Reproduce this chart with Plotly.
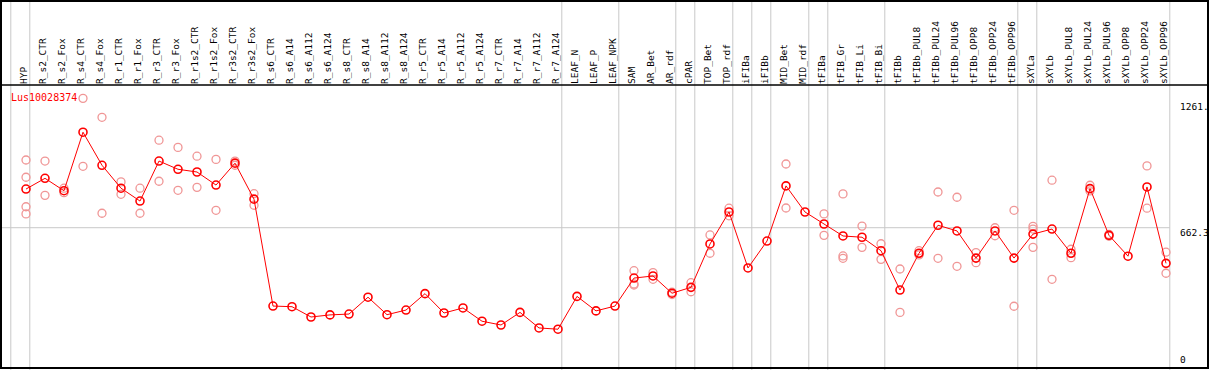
import plotly.graph_objects as go

categories = ["HYP", "R_s2_CTR", "R_s2_Fox", "R_s4_CTR", "R_s4_Fox", "R_r1_CTR", "R_r1_Fox",
              "R_r3_CTR", "R_r3_Fox", "R_r1s2_CTR", "R_r1s2_Fox", "R_r3s2_CTR", "R_r3s2_Fox",
              "R_s6_CTR", "R_s6_A14", "R_s6_A112", "R_s6_A124", "R_s8_CTR", "R_s8_A14",
              "R_s8_A112", "R_s8_A124", "R_r5_CTR", "R_r5_A14", "R_r5_A112", "R_r5_A124",
              "R_r7_CTR", "R_r7_A14", "R_r7_A112", "R_r7_A124", "LEAF_N", "LEAF_P", "LEAF_NPK",
              "SAM", "AR_Bet", "AR_rdf", "cPAR", "TOP_Bet", "TOP_rdf", "iFIBa", "iFIBb",
              "MID_Bet", "MID_rdf", "tFIBa", "tFIB_Gr", "tFIB_Li", "tFIB_Bi", "tFIBb",
              "tFIBb_PUL8", "tFIBb_PUL24", "tFIBb_PUL96", "tFIBb_OPP8", "tFIBb_OPP24",
              "tFIBb_OPP96", "sXYLa", "sXYLb", "sXYLb_PUL8", "sXYLb_PUL24", "sXYLb_PUL96",
              "sXYLb_OPP8", "sXYLb_OPP24", "sXYLb_OPP96"]

means = [846, 897, 838, 1116, 959, 850, 789, 979, 940, 927, 865, 969, 798,
         290, 287, 238, 248, 252, 332, 249, 271, 349, 257, 281, 218,
         200, 260, 186, 180, 336, 267, 290,
         423, 433, 351, 379, 585, 737, 471, 599,
         861, 737, 680, 623, 617, 553, 366,
         541, 674, 647, 518, 647, 518,
         632, 656, 541, 848, 626, 527, 856, 493]

replicates = [
    [984, 902, 762, 728], [979, 816], [850, 829], [1277, 954], [1187, 731], [880, 821], [850, 731],
    [1078, 883], [1044, 840], [1002, 854], [987, 745], [979, 959], [824, 769],
    [], [], [], [], [], [], [], [], [], [], [], [],
    [], [], [], [], [], [], [],
    [458, 395, 390], [449, 417], [356, 345], [401, 358], [628, 541], [755, 719], [], [],
    [965, 756], [], [728, 626], [823, 528, 517], [670, 569], [586, 512], [466, 260],
    [553, 533], [832, 517], [807, 479], [544, 496], [662, 624], [745, 289],
    [669, 656, 569], [888, 417], [560, 520], [864, 837], [631, 622], [], [956, 755], [546, 446],
]

group_ends = ["HYP", "R_r7_A124", "LEAF_NPK", "AR_rdf", "cPAR", "TOP_rdf", "iFIBa", "iFIBb",
              "MID_rdf", "tFIBa", "tFIB_Bi", "tFIBb_OPP96", "sXYLa", "sXYLb_OPP96"]

ref_value = 662.3
right_labels = [("1261.", 1261.0, "top"), ("662.3", 662.3, "top"), ("0", 0.0, "bottom")]
gene_name = "Lus10028374"

xpos = list(range(1, len(categories) + 1))
rep_x, rep_y = [], []
for xi, reps in zip(xpos, replicates):
    for r in reps:
        rep_x.append(xi)
        rep_y.append(r)

FONT = "DejaVu Sans Mono"
XR = [-6 / 19, 1201 / 19]
YR = [-4.3, 1340.4]
OFF = 0.2

fig = go.Figure()
fig.add_trace(go.Scatter(
    x=rep_x, y=rep_y, mode="markers", hoverinfo="skip",
    marker=dict(symbol="circle-open", size=8, color="rgb(240,150,150)", line=dict(width=1.3)),
))
fig.add_trace(go.Scatter(
    x=xpos, y=means, mode="lines+markers", hoverinfo="skip",
    line=dict(color="red", width=1),
    marker=dict(symbol="circle-open", size=8, color="red", line=dict(width=1.6)),
))

shapes = []
vlines = [OFF] + [categories.index(g) + 1 + OFF for g in group_ends]
for v in vlines:
    shapes.append(dict(type="line", xref="x", yref="paper", x0=v, x1=v, y0=-0.01, y1=1.31,
                       line=dict(color="#c8c8c8", width=1), layer="below"))
shapes.append(dict(type="line", xref="x", yref="y", x0=XR[0], x1=len(categories) + OFF,
                   y0=ref_value, y1=ref_value, line=dict(color="#c8c8c8", width=1), layer="below"))
# outer frame and header divider
shapes.append(dict(type="rect", xref="paper", yref="paper", x0=0, x1=1, y0=0, y1=1.2968,
                   line=dict(color="black", width=2), layer="above"))
shapes.append(dict(type="line", xref="paper", yref="paper", x0=0, x1=1, y0=1, y1=1,
                   line=dict(color="black", width=1.5), layer="above"))

annotations = [dict(x=OFF - 0.1, y=1283, xref="x", yref="y", text=gene_name, showarrow=False,
                    xanchor="left", yanchor="middle", font=dict(family=FONT, size=10, color="red"))]
for txt, val, anc in right_labels:
    annotations.append(dict(x=len(categories) + 0.62, y=val, xref="x", yref="y", text=txt,
                            showarrow=False, xanchor="left", yanchor=anc,
                            yshift=(3 if anc == "top" else 0),
                            font=dict(family=FONT, size=9.5, color="black")))

fig.update_layout(
    width=1209, height=370,
    margin=dict(l=1, r=1, t=85, b=2, pad=0),
    paper_bgcolor="white", plot_bgcolor="rgba(0,0,0,0)",
    showlegend=False,
    shapes=shapes, annotations=annotations,
    xaxis=dict(range=XR, side="top", tickmode="array", tickvals=xpos, ticktext=categories,
               tickangle=-90, ticks="", showgrid=False, zeroline=False, showline=False,
               ticklabelshift=-2,
               tickfont=dict(family=FONT, size=9.5, color="black")),
    yaxis=dict(range=YR, showticklabels=False, ticks="", showgrid=False, zeroline=False,
               showline=False),
)

fig.write_html("out.html", config={"displayModeBar": False},
               post_script="document.body.style.margin='0';document.body.style.overflow='hidden';")
